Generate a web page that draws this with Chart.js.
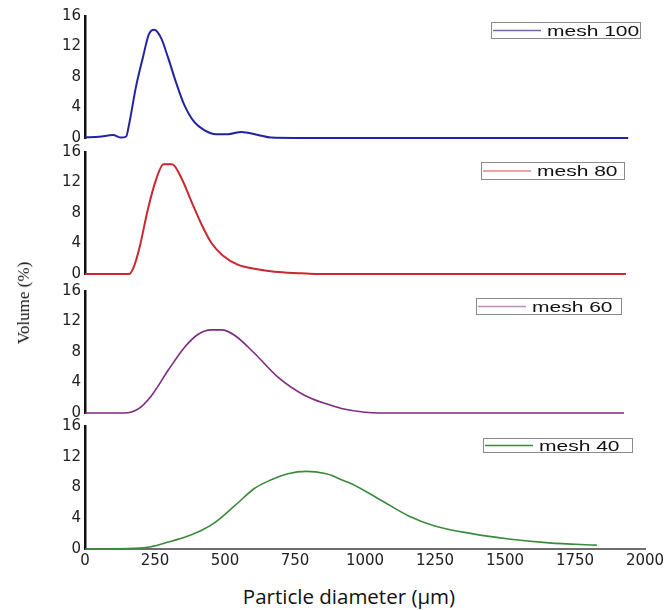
<!DOCTYPE html>
<html>
<head>
<meta charset="utf-8">
<script src="https://cdn.jsdelivr.net/npm/chart.js@4.4.0/dist/chart.umd.min.js"></script>
<style>
  body { margin: 0; background: #fff; width: 671px; height: 610px; position: relative; overflow: hidden; }
  canvas { position: absolute; left: 0; }
  #ytitle { position: absolute; left: 24px; top: 303px; transform: translate(-50%, -50%) rotate(-90deg);
            font-family: "Liberation Serif", "DejaVu Serif", serif; font-size: 17px; color: #111; white-space: nowrap; }
  #xtitle { position: absolute; left: 349px; top: 596px; transform: translate(-50%, -50%);
            font-family: "Open Sans", "Noto Sans", sans-serif; font-size: 20.5px; color: #111; white-space: nowrap; }
</style>
</head>
<body>
<canvas id="p1" width="671" height="150" style="top:2px"></canvas>
<canvas id="p2" width="671" height="150" style="top:138px"></canvas>
<canvas id="p3" width="671" height="150" style="top:277px"></canvas>
<canvas id="p4" width="671" height="163" style="top:412px"></canvas>
<div id="ytitle">Volume (%)</div>
<div id="xtitle">Particle diameter (μm)</div>
<script>
// particle diameter (um) / volume (%)
const mesh100X = [0, 50, 100, 129, 147, 157, 182, 207, 228, 247, 272, 297, 326, 355, 390, 427, 469, 511, 558, 618, 665, 750, 1940];
const mesh100Y = [0.1, 0.15, 0.4, 0.05, 0.2, 1.7, 6.7, 10.6, 13.6, 14.2, 13.1, 10.5, 7.2, 4.3, 2.1, 1.0, 0.5, 0.5, 0.8, 0.4, 0.05, 0, 0];

const mesh80X = [0, 158, 176, 195, 224, 254, 280, 311, 343, 379, 415, 451, 493, 547, 605, 677, 773, 830, 1932];
const mesh80Y = [0, 0, 1.1, 3.5, 8.4, 12.4, 14.4, 14.4, 12.7, 9.6, 6.6, 4.1, 2.4, 1.2, 0.7, 0.3, 0.1, 0, 0];

const mesh60X = [0, 141, 189, 236, 297, 355, 403, 451, 487, 534, 606, 689, 785, 862, 916, 1000, 1050, 1925];
const mesh60Y = [0, 0, 0.5, 2.2, 5.6, 8.6, 10.3, 10.9, 10.9, 10.2, 7.8, 4.7, 2.3, 1.2, 0.6, 0.1, 0, 0];

const mesh40X = [0, 176, 236, 297, 368, 415, 462, 534, 606, 665, 725, 790, 862, 880, 916, 952, 1059, 1156, 1249, 1381, 1513, 1657, 1828];
const mesh40Y = [0, 0.1, 0.3, 0.9, 1.7, 2.4, 3.4, 5.6, 7.9, 9.0, 9.8, 10.1, 9.8, 9.6, 9.0, 8.5, 6.3, 4.3, 3.0, 2.0, 1.3, 0.8, 0.5];

const yTicks = [0, 4, 8, 12, 16];
const xTicks = [0, 250, 500, 750, 1000, 1250, 1500, 1750, 2000];

const tickFont = { family: '"DejaVu Sans", sans-serif', size: 15 };

// little boxed legend in the upper right of each panel
const boxLegend = {
  id: 'boxLegend',
  afterDraw(chart, args, opts) {
    const ctx = chart.ctx, area = chart.chartArea;
    const ds = chart.data.datasets[0];
    const x = Math.round(area.right - opts.right - opts.width);
    const y = Math.round(area.top + opts.top);
    ctx.save();
    ctx.strokeStyle = '#8a8a8a';
    ctx.lineWidth = 1;
    ctx.strokeRect(x + 0.5, y + 0.5, opts.width, opts.height);
    const my = y + opts.height / 2 + 0.5;
    ctx.strokeStyle = opts.sample;
    ctx.lineWidth = 1.5;
    ctx.beginPath();
    ctx.moveTo(x + 2, my);
    ctx.lineTo(x + 50, my);
    ctx.stroke();
    ctx.fillStyle = '#111';
    ctx.font = '15px "Liberation Sans", Arial, sans-serif';
    ctx.textBaseline = 'middle';
    ctx.translate(x + 56, my + 1);
    ctx.scale(1.4, 1);
    ctx.fillText(ds.label, 0, 0);
    ctx.restore();
  }
};

function panel(id, label, xs, ys, color, width, legendBox, showX) {
  return new Chart(document.getElementById(id), {
    type: 'line',
    data: {
      datasets: [{
        label: label,
        data: xs.map((x, i) => ({ x: x, y: ys[i] })),
        borderColor: color,
        borderWidth: width,
        pointRadius: 0,
        cubicInterpolationMode: 'monotone',
        fill: false,
        clip: false
      }]
    },
    options: {
      responsive: false,
      animation: false,
      events: [],
      layout: { padding: { top: 14, right: 26, bottom: showX ? 2 : 14, left: 0 } },
      plugins: {
        legend: { display: false },
        tooltip: { enabled: false },
        boxLegend: legendBox
      },
      scales: {
        x: {
          type: 'linear', min: 0, max: 2000,
          display: showX,
          grid: { display: false, drawTicks: false },
          border: { display: true, color: '#6e6e6e', width: 2 },
          afterBuildTicks: (s) => { s.ticks = xTicks.map(v => ({ value: v })); },
          ticks: { padding: 3, color: '#222', font: tickFont, maxRotation: 0, autoSkip: false, callback: (v) => String(v) }
        },
        y: {
          min: 0, max: 16,
          grid: { display: false, drawTicks: false },
          border: { color: '#111', width: 2.5 },
          afterBuildTicks: (s) => { s.ticks = yTicks.map(v => ({ value: v })); },
          ticks: { padding: 4, color: '#222', font: tickFont, callback: (v) => String(v) },
          afterFit: (s) => { s.width = 85; }
        }
      }
    },
    plugins: [boxLegend]
  });
}

panel('p1', 'mesh 100', mesh100X, mesh100Y, '#2323a0', 2, { right: 5, top: 6, width: 149, height: 16, sample: '#6b6ba8' }, false);
panel('p2', 'mesh 80', mesh80X, mesh80Y, '#c8282e', 2, { right: 21, top: 10, width: 143, height: 17, sample: '#e28888' }, false);
panel('p3', 'mesh 60', mesh60X, mesh60Y, '#7d2a80', 1.6, { right: 24, top: 7, width: 145, height: 16, sample: '#c08cc0' }, false);
panel('p4', 'mesh 40', mesh40X, mesh40Y, '#3b8a3b', 1.6, { right: 13, top: 12, width: 149, height: 14, sample: '#3b8a3b' }, true);
</script>
</body>
</html>
